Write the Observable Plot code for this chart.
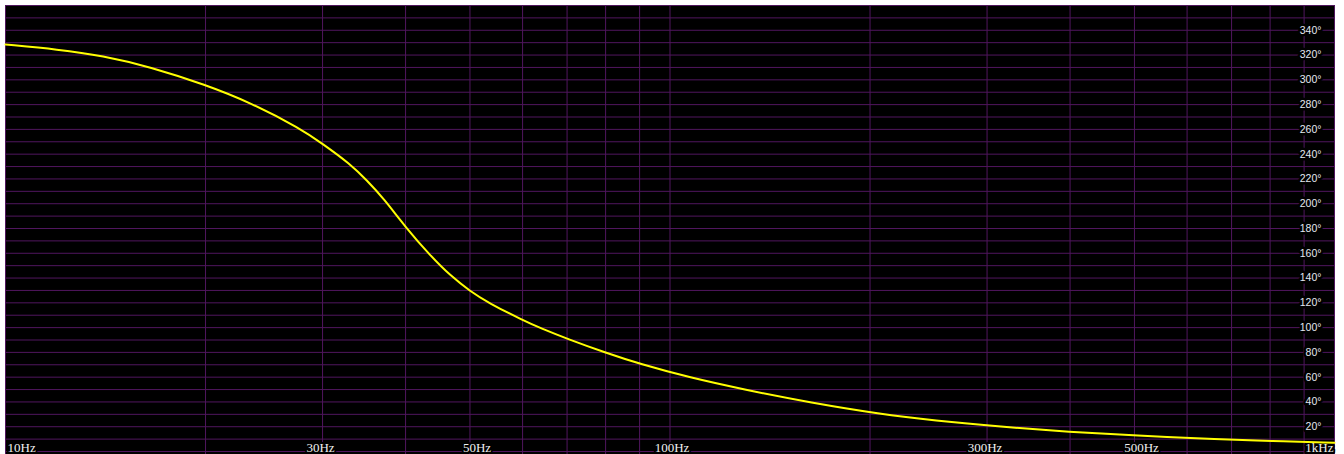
<!DOCTYPE html>
<html>
<head>
<meta charset="utf-8">
<script src="https://cdn.jsdelivr.net/npm/d3@7"></script>
<script src="https://cdn.jsdelivr.net/npm/@observablehq/plot@0.6"></script>
<style>
  html, body { margin: 0; padding: 0; background: #ffffff; }
  #chart svg { display: block; }
</style>
</head>
<body>
<div id="chart"></div>
<script>
// Phase response (degrees) against frequency (Hz, log scale)
const frequencies = [10, 12, 14, 16.5, 20, 23.4, 27.8, 30, 33, 35, 37.1, 40, 43.6, 46.7, 50, 53.3, 60, 63.9, 70, 80, 90, 107, 130, 163, 207, 250, 314, 400, 500, 673, 800, 1000];
const phaseDegrees = [328.5, 324.5, 319.5, 310.5, 296, 281.5, 260.5, 248.4, 232.2, 218.7, 204, 181, 158, 142, 129.5, 120, 106, 99.5, 91, 79.7, 70.7, 59.7, 49.7, 39.4, 30.3, 25, 20, 15.8, 12.9, 9.8, 8.5, 7.1];

// Grid positions
const gridFrequencies = [10, 20, 30, 40, 50, 60, 70, 80, 90, 100, 200, 300, 400, 500, 600, 700, 800, 900, 1000];
const gridDegrees = [0, 10, 20, 30, 40, 50, 60, 70, 80, 90, 100, 110, 120, 130, 140, 150, 160, 170, 180, 190, 200, 210, 220, 230, 240, 250, 260, 270, 280, 290, 300, 310, 320, 330, 340, 350, 360];

// Axis labels
const degreeTicks = [20, 40, 60, 80, 100, 120, 140, 160, 180, 200, 220, 240, 260, 280, 300, 320, 340];
const freqTicks = [10, 30, 50, 100, 300, 500, 1000];
const freqTickLabels = ["10Hz", "30Hz", "50Hz", "100Hz", "300Hz", "500Hz", "1kHz"];

const curve = frequencies.map((f, i) => ({f, deg: phaseDegrees[i]}));
const freqLabels = freqTicks.map((f, i) => ({f, label: freqTickLabels[i]}));

const gridColor = "#50165e";
const labelFont = "'Liberation Serif', 'Times New Roman', serif";
const degFont = "'Liberation Sans', Tahoma, Arial, sans-serif";

const xLabelBase = {
  x: "f", text: "label", frameAnchor: "bottom", lineAnchor: "bottom", dy: -3,
  fill: "#f0f0f0", stroke: "black", strokeWidth: 4, paintOrder: "stroke",
  fontSize: 13, fontFamily: labelFont
};

const chart = Plot.plot({
  width: 1344,
  height: 454,
  marginLeft: 5,
  marginRight: 10,
  marginTop: 5,
  marginBottom: 0,
  style: {background: "#ffffff"},
  x: {type: "log", domain: [10, 1000], range: [5, 1334], axis: null},
  y: {domain: [0, 360], range: [451, 5], axis: null},
  marks: [
    Plot.frame({fill: "black"}),
    Plot.ruleY(gridDegrees, {stroke: gridColor, strokeWidth: 1}),
    Plot.ruleX(gridFrequencies, {stroke: gridColor, strokeWidth: 1}),
    // degree labels on the right, with a black backing that breaks the grid lines
    Plot.text(degreeTicks, {
      y: d => d, text: d => `${d}°`, frameAnchor: "right", textAnchor: "end", dx: -13,
      fill: "#e4e8f0", stroke: "black", strokeWidth: 5, paintOrder: "stroke",
      fontSize: 10.5, fontFamily: degFont
    }),
    // frequency labels along the bottom
    Plot.text(freqLabels, {...xLabelBase, filter: d => d.f === 10, textAnchor: "start", dx: 2}),
    Plot.text(freqLabels, {...xLabelBase, filter: d => d.f === 30 || d.f === 300, textAnchor: "middle", dx: -2}),
    Plot.text(freqLabels, {...xLabelBase, filter: d => d.f === 100, textAnchor: "middle", dx: 2}),
    Plot.text(freqLabels, {...xLabelBase, filter: d => d.f === 50 || d.f === 500, textAnchor: "middle", dx: 7}),
    Plot.text(freqLabels, {...xLabelBase, filter: d => d.f === 1000, textAnchor: "end", dx: -1}),
    // phase curve
    Plot.line(curve, {x: "f", y: "deg", stroke: "#ffff00", strokeWidth: 2, curve: "basis"})
  ]
});

document.getElementById("chart").append(chart);
</script>
</body>
</html>
